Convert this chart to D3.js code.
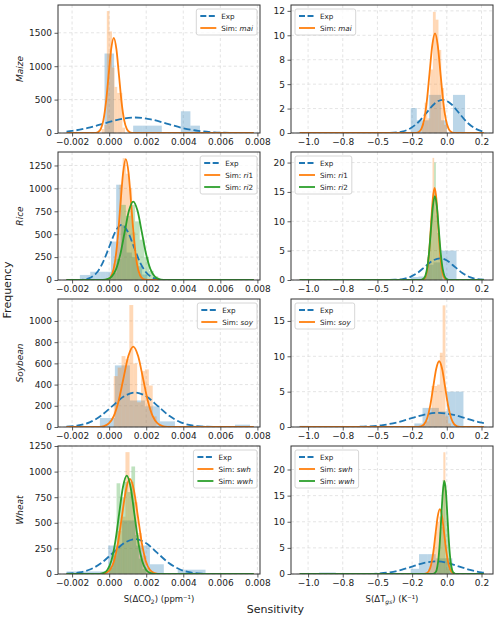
<!DOCTYPE html>
<html>
<head>
<meta charset="utf-8">
<script src="https://cdn.jsdelivr.net/npm/d3@7"></script>
<style>
  body { margin: 0; background: #fff; }
  svg text { font-family: "DejaVu Sans", sans-serif; }
</style>
</head>
<body>
<svg id="chart" width="500" height="621"></svg>
<script>
// ---- categories / ticks ----
const crops = ["Maize", "Rice", "Soybean", "Wheat"];
const simNames = [[["mai", ""]], [["ri", "1"], ["ri", "2"]], [["soy", ""]], [["swh", ""], ["wwh", ""]]];

const co2Domain = [-0.00276, 0.00814];
const tDomain = [-1.123, 0.333];
const co2Ticks = [-0.002, 0, 0.002, 0.004, 0.006, 0.008];
const co2TickLabels = ["\u22120.002", "0.000", "0.002", "0.004", "0.006", "0.008"];
const tTicks = [-1.0, -0.75, -0.5, -0.25, 0, 0.25];
const tTickLabels = ["\u22121.0", "\u22120.8", "\u22120.5", "\u22120.2", "0.0", "0.2"];

const co2YMax = [1916, 1397, 1207, 1250];
const tYMax = [13.1, 21.8, 18.1, 24.5];
const co2YTicks = [[0, 500, 1000, 1500], [0, 250, 500, 750, 1000, 1250], [0, 200, 400, 600, 800, 1000], [0, 250, 500, 750, 1000, 1250]];
const tYTicks = [[0, 2.5, 5, 7.5, 10, 12.5], [0, 5, 10, 15, 20], [0, 5, 10, 15], [0, 5, 10, 15, 20]];
const tYTickLabels = [["0", "2", "5", "8", "10", "12"], ["0", "5", "10", "15", "20"], ["0", "5", "10", "15"], ["0", "5", "10", "15", "20"]];

// ---- histograms (bin start, bin width, densities) ----
const maizeCo2ExpHist = { x0: -0.00025, dx: 0.000515, h: [1190, 0, 0, 110, 110, 110, 0, 0, 325, 110] };
const maizeCo2SimHist = { x0: -0.000405, dx: 0.00014, h: [60, 120, 1825, 1520, 980, 690, 600, 600, 80] };
const maizeTExpHist = { x0: -0.26, dx: 0.0435, h: [2.55, 1.3, 1.3, 3.9, 3.9, 1.3, 0, 3.9, 3.9] };
const maizeTSimHist = { x0: -0.18, dx: 0.02, h: [1.0, 3.1, 1.5, 6.5, 12.4, 11.6, 8.5, 4.6, 0.85] };

const riceCo2ExpHist = { x0: -0.00158, dx: 0.00028, h: [55, 55, 90, 90, 90, 90, 420, 1040, 600, 300, 250, 150, 60] };
const riceCo2Sim1Hist = { x0: 0.00005, dx: 0.00017, h: [60, 180, 420, 1040, 1330, 1160, 1000, 520, 250, 60, 15] };
const riceCo2Sim2Hist = { x0: -0.0001, dx: 0.00025, h: [20, 80, 230, 820, 700, 820, 640, 440, 250, 100, 40] };
const riceTExpHist = { x0: -0.26, dx: 0.055, h: [0.5, 0.6, 2.6, 3.0, 5.0, 5.0] };
const riceTSim1Hist = { x0: -0.163, dx: 0.012, h: [0.4, 1.3, 3.3, 6.5, 11, 20.8, 15, 12, 8, 4.5, 2] };
const riceTSim2Hist = { x0: -0.163, dx: 0.012, h: [0.7, 1.8, 3.9, 7.1, 10.8, 13, 20, 11, 8, 5, 2.5] };

const soyCo2ExpHist = { x0: -0.00212, dx: 0.00081, h: [10, 0, 85, 581, 250, 195, 53, 0, 12, 0, 0, 22] };
const soyCo2SimHist = { x0: 0.00025, dx: 0.00021, h: [480, 560, 669, 640, 1150, 600, 233, 527, 543, 391, 100] };
const soyTExpHist = { x0: -1.06, dx: 0.059, h: [0.17, 0, 0, 0, 0, 0, 0, 0, 0, 0, 0, 0, 0, 0, 0.5, 2.7, 2.7, 2.2, 5.0, 5.0] };
const soyTSimHist = { x0: -0.17, dx: 0.02, h: [0.3, 0.8, 2.0, 5.8, 5.8, 6.0, 10.5, 17.2, 1.5, 0.5] };

const wheatCo2ExpHist = { x0: -0.0023, dx: 0.00075, h: [25, 25, 25, 278, 523, 278, 95, 0, 42, 42] };
const wheatCo2Sim1Hist = { x0: 0.0, dx: 0.00022, h: [60, 180, 420, 560, 1190, 900, 700, 400, 180, 60] };
const wheatCo2Sim2Hist = { x0: 0.0, dx: 0.0002, h: [80, 220, 886, 750, 900, 800, 1050, 380, 150, 50] };
const wheatTExpHist = { x0: -0.92, dx: 0.06, h: [0.3, 0.3, 0, 0, 0, 0, 0, 0, 0, 0, 0, 1.0, 3.8, 3.8, 3.0, 3.0] };
const wheatTSim1Hist = { x0: -0.13, dx: 0.015, h: [0.9, 2.4, 5, 8, 10, 11, 9, 23.3, 3, 1] };
const wheatTSim2Hist = { x0: -0.07, dx: 0.01, h: [1.5, 4, 8, 12, 18, 17.5, 16, 10, 6, 3, 1] };

// ---- density curves [x, density] ----
const maizeCo2ExpCurve = [[-0.0023, 21.6], [-0.002, 31.4], [-0.00115, 75.3], [-0.0003, 140.7], [0.00055, 204.7], [0.0014, 232], [0.00225, 204.7], [0.0031, 140.7], [0.00395, 75.3], [0.0048, 31.4], [0.00565, 10.2], [0.0065, 2.6], [0.00735, 0.5], [0.0078, 0.2]];
const maizeCo2SimCurve = [[-0.0023, 0], [-0.00087, 0.4], [-0.00073, 3], [-0.00059, 16], [-0.00045, 63], [-0.00031, 193], [-0.00017, 463], [-0.00003, 864], [0.00011, 1258], [0.00025, 1425], [0.00039, 1258], [0.00053, 864], [0.00067, 463], [0.00081, 193], [0.00095, 63], [0.00109, 16], [0.00123, 3], [0.00137, 0.4], [0.0078, 0]];
const maizeTExpCurve = [[-1.06, 0], [-0.498, 0.001], [-0.4395, 0.007], [-0.381, 0.038], [-0.3225, 0.149], [-0.264, 0.46], [-0.2055, 1.10], [-0.147, 2.06], [-0.0885, 3.0], [-0.03, 3.4], [0.0285, 3.0], [0.087, 2.06], [0.1455, 1.10], [0.204, 0.46], [0.267, 0.13]];
const maizeTSimCurve = [[-1.06, 0], [-0.241, 0.003], [-0.2215, 0.02], [-0.202, 0.11], [-0.1825, 0.45], [-0.163, 1.38], [-0.1435, 3.31], [-0.124, 6.19], [-0.1045, 9.0], [-0.085, 10.2], [-0.0655, 9.0], [-0.046, 6.19], [-0.0265, 3.31], [-0.007, 1.38], [0.0125, 0.45], [0.032, 0.11], [0.0515, 0.02], [0.071, 0.003], [0.267, 0]];

const riceCo2ExpCurve = [[-0.0023, 0], [-0.00199, 0.2], [-0.00166, 1.3], [-0.00132, 6.7], [-0.00099, 26.4], [-0.00066, 81.3], [-0.00033, 195], [0.00001, 364.5], [0.00034, 530], [0.00067, 601], [0.001, 530], [0.00133, 364.5], [0.00166, 195], [0.002, 81.3], [0.00233, 26.4], [0.00266, 6.7], [0.00299, 1.3], [0.00333, 0.2], [0.0078, 0]];
const riceCo2Sim1Curve = [[-0.0023, 0], [-0.0003, 0.4], [-0.00015, 2.9], [0.0, 14.7], [0.00015, 58], [0.0003, 179], [0.00045, 429], [0.0006, 801], [0.00075, 1165], [0.0009, 1320], [0.00105, 1165], [0.0012, 801], [0.00135, 429], [0.0015, 179], [0.00165, 58], [0.0018, 14.7], [0.00195, 2.9], [0.0021, 0.4], [0.0078, 0]];
const riceCo2Sim2Curve = [[-0.0023, 0], [-0.000564, 0.26], [-0.000331, 1.9], [-0.000098, 9.5], [0.000135, 37.6], [0.000368, 116], [0.000601, 278], [0.000834, 519], [0.001067, 755], [0.0013, 856], [0.001533, 755], [0.001766, 519], [0.001999, 278], [0.002232, 116], [0.002465, 37.6], [0.002698, 9.5], [0.002931, 1.9], [0.003164, 0.26], [0.0078, 0]];
const riceTExpCurve = [[-1.06, 0], [-0.482, 0.001], [-0.428, 0.008], [-0.374, 0.041], [-0.32, 0.16], [-0.266, 0.5], [-0.212, 1.2], [-0.158, 2.24], [-0.104, 3.27], [-0.05, 3.7], [0.004, 3.27], [0.058, 2.24], [0.112, 1.2], [0.166, 0.5], [0.22, 0.16], [0.267, 0.05]];
const riceTSim1Curve = [[-1.06, 0], [-0.1896, 0.005], [-0.1769, 0.035], [-0.1642, 0.17], [-0.1515, 0.69], [-0.1388, 2.12], [-0.1261, 5.1], [-0.1134, 9.52], [-0.1007, 13.86], [-0.088, 15.7], [-0.0753, 13.86], [-0.0626, 9.52], [-0.0499, 5.1], [-0.0372, 2.12], [-0.0245, 0.69], [-0.0118, 0.17], [0.0009, 0.035], [0.0136, 0.005], [0.267, 0]];
const riceTSim2Curve = [[-1.06, 0], [-0.198, 0.004], [-0.184, 0.031], [-0.17, 0.16], [-0.156, 0.63], [-0.142, 1.93], [-0.128, 4.64], [-0.114, 8.67], [-0.1, 12.6], [-0.086, 14.3], [-0.072, 12.6], [-0.058, 8.67], [-0.044, 4.64], [-0.03, 1.93], [-0.016, 0.63], [-0.002, 0.16], [0.012, 0.031], [0.026, 0.004], [0.267, 0]];

const soyCo2ExpCurve = [[-0.0023, 3.6], [-0.00168, 14.3], [-0.00106, 44], [-0.000445, 105.5], [0.00017, 197], [0.000785, 287], [0.0014, 325], [0.002015, 287], [0.00263, 197], [0.003245, 105.5], [0.00386, 44], [0.004475, 14.3], [0.00509, 3.6], [0.005705, 0.7], [0.00632, 0.1], [0.0078, 0]];
const soyCo2SimCurve = [[-0.0023, 0], [-0.000804, 0.23], [-0.000541, 1.7], [-0.000278, 8.4], [-0.000015, 33.3], [0.000248, 102.6], [0.000511, 246], [0.000774, 460], [0.001037, 669], [0.0013, 758], [0.001563, 669], [0.001826, 460], [0.002089, 246], [0.002352, 102.6], [0.002615, 33.3], [0.002878, 8.4], [0.003141, 1.7], [0.003404, 0.23], [0.0078, 0]];
const soyTExpCurve = [[-1.06, 0], [-0.96, 0], [-0.86, 0.0007], [-0.76, 0.0044], [-0.66, 0.022], [-0.56, 0.088], [-0.46, 0.27], [-0.36, 0.65], [-0.26, 1.21], [-0.16, 1.76], [-0.06, 2.0], [0.04, 1.76], [0.14, 1.21], [0.24, 0.65], [0.267, 0.53]];
const soyTSimCurve = [[-1.06, 0], [-0.227, 0.003], [-0.2055, 0.02], [-0.184, 0.10], [-0.1625, 0.41], [-0.141, 1.26], [-0.1195, 3.02], [-0.098, 5.64], [-0.0765, 8.21], [-0.055, 9.3], [-0.0335, 8.21], [-0.012, 5.64], [0.0095, 3.02], [0.031, 1.26], [0.0525, 0.41], [0.074, 0.10], [0.0955, 0.02], [0.117, 0.003], [0.267, 0]];

const wheatCo2ExpCurve = [[-0.0023, 3.0], [-0.0016, 14.9], [-0.001, 46], [-0.0004, 110], [0.0002, 206], [0.0008, 300], [0.0014, 340], [0.002, 300], [0.0026, 206], [0.0032, 110], [0.0038, 46], [0.0044, 14.9], [0.005, 3.8], [0.0056, 0.75], [0.0062, 0.1], [0.0078, 0]];
const wheatCo2Sim1Curve = [[-0.0023, 0], [-0.0006, 0.3], [-0.000385, 2.0], [-0.00017, 10.3], [0.000045, 40.7], [0.00026, 125.6], [0.000475, 301], [0.00069, 563], [0.000905, 819], [0.00112, 928], [0.001335, 819], [0.00155, 563], [0.001765, 301], [0.00198, 125.6], [0.002195, 40.7], [0.00241, 10.3], [0.002625, 2.0], [0.00284, 0.3], [0.0078, 0]];
const wheatCo2Sim2Curve = [[-0.0023, 0], [-0.00071, 0.3], [-0.000503, 2.1], [-0.000295, 10.7], [-0.000088, 42.1], [0.00012, 130], [0.000328, 312], [0.000535, 582], [0.000743, 847], [0.00095, 960], [0.001158, 847], [0.001365, 582], [0.001573, 312], [0.00178, 130], [0.001988, 42.1], [0.002195, 10.7], [0.002403, 2.1], [0.00261, 0.3], [0.0078, 0]];
const wheatTExpCurve = [[-1.06, 0], [-0.74, 0.0008], [-0.6575, 0.0053], [-0.575, 0.027], [-0.4925, 0.106], [-0.41, 0.327], [-0.3275, 0.786], [-0.245, 1.468], [-0.1625, 2.136], [-0.08, 2.42], [0.0025, 2.136], [0.085, 1.468], [0.1675, 0.786], [0.25, 0.327], [0.267, 0.27]];
const wheatTSim1Curve = [[-1.06, 0], [-0.178, 0.004], [-0.162, 0.027], [-0.146, 0.14], [-0.13, 0.54], [-0.114, 1.68], [-0.098, 4.03], [-0.082, 7.52], [-0.066, 10.94], [-0.05, 12.4], [-0.034, 10.94], [-0.018, 7.52], [-0.002, 4.03], [0.014, 1.68], [0.03, 0.54], [0.046, 0.14], [0.062, 0.027], [0.078, 0.004], [0.267, 0]];
const wheatTSim2Curve = [[-1.06, 0], [-0.107, 0.005], [-0.0959, 0.039], [-0.0847, 0.2], [-0.0735, 0.78], [-0.0623, 2.41], [-0.0511, 5.78], [-0.0399, 10.8], [-0.0287, 15.7], [-0.0175, 17.8], [-0.0063, 15.7], [0.0049, 10.8], [0.0161, 5.78], [0.0273, 2.41], [0.0385, 0.78], [0.0497, 0.2], [0.0609, 0.039], [0.0721, 0.005], [0.267, 0]];

// ---- panel table built from the arrays above ----
const co2Hists = [[maizeCo2ExpHist, maizeCo2SimHist], [riceCo2ExpHist, riceCo2Sim1Hist, riceCo2Sim2Hist], [soyCo2ExpHist, soyCo2SimHist], [wheatCo2ExpHist, wheatCo2Sim1Hist, wheatCo2Sim2Hist]];
const co2Curves = [[maizeCo2ExpCurve, maizeCo2SimCurve], [riceCo2ExpCurve, riceCo2Sim1Curve, riceCo2Sim2Curve], [soyCo2ExpCurve, soyCo2SimCurve], [wheatCo2ExpCurve, wheatCo2Sim1Curve, wheatCo2Sim2Curve]];
const tHists = [[maizeTExpHist, maizeTSimHist], [riceTExpHist, riceTSim1Hist, riceTSim2Hist], [soyTExpHist, soyTSimHist], [wheatTExpHist, wheatTSim1Hist, wheatTSim2Hist]];
const tCurves = [[maizeTExpCurve, maizeTSimCurve], [riceTExpCurve, riceTSim1Curve, riceTSim2Curve], [soyTExpCurve, soyTSimCurve], [wheatTExpCurve, wheatTSim1Curve, wheatTSim2Curve]];

const colors = ["#1f77b4", "#ff7f0e", "#2ca02c"];
const colX = [[58, 260], [291, 493]];
const rowTop = [5, 152, 299, 446];
const panelH = 128;

const svg = d3.select("#chart");
const line = d3.line().curve(d3.curveMonotoneX);

crops.forEach((crop, r) => {
  [0, 1].forEach(c => {
    const [x0, x1] = colX[c];
    const y0 = rowTop[r], y1 = y0 + panelH;
    const x = d3.scaleLinear().domain(c ? tDomain : co2Domain).range([x0, x1]);
    const y = d3.scaleLinear().domain([0, c ? tYMax[r] : co2YMax[r]]).range([y1, y0]);
    const xt = c ? tTicks : co2Ticks;
    const xl = c ? tTickLabels : co2TickLabels;
    const yt = c ? tYTicks[r] : co2YTicks[r];
    const yl = c ? tYTickLabels[r] : yt.map(String);
    const hists = c ? tHists[r] : co2Hists[r];
    const curves = c ? tCurves[r] : co2Curves[r];

    const id = `clip-${r}-${c}`;
    svg.append("clipPath").attr("id", id)
      .append("rect").attr("x", x0).attr("y", y0).attr("width", x1 - x0).attr("height", panelH);

    const g = svg.append("g");

    // grid
    const grid = g.append("g").attr("stroke", "#d9d9d9").attr("stroke-width", 0.7).attr("stroke-dasharray", "3,2.5");
    grid.selectAll(".gx").data(xt).enter().append("line")
      .attr("x1", d => x(d)).attr("x2", d => x(d)).attr("y1", y0).attr("y2", y1);
    grid.selectAll(".gy").data(yt).enter().append("line")
      .attr("x1", x0).attr("x2", x1).attr("y1", d => y(d)).attr("y2", d => y(d));

    const plot = g.append("g").attr("clip-path", `url(#${id})`);

    // histograms
    hists.forEach((hs, k) => {
      plot.append("g").selectAll("rect")
        .data(hs.h.map((v, j) => ({ a: hs.x0 + j * hs.dx, b: hs.x0 + (j + 1) * hs.dx, v })).filter(d => d.v > 0))
        .enter().append("rect")
        .attr("x", d => x(d.a))
        .attr("width", d => x(d.b) - x(d.a))
        .attr("y", d => y(d.v))
        .attr("height", d => y1 - y(d.v))
        .attr("fill", colors[k])
        .attr("fill-opacity", 0.3);
    });

    // density curves
    curves.forEach((pts, k) => {
      plot.append("path")
        .attr("d", line(pts.map(p => [x(p[0]), y(p[1])])))
        .attr("fill", "none")
        .attr("stroke", colors[k])
        .attr("stroke-width", 1.8)
        .attr("stroke-dasharray", k === 0 ? "7,3" : null);
    });

    // axes
    const ax = g.append("g").attr("transform", `translate(0,${y1})`)
      .call(d3.axisBottom(x).tickValues(xt).tickFormat((d, j) => xl[j]).tickSize(3.5).tickPadding(2.5));
    const ay = g.append("g").attr("transform", `translate(${x0},0)`)
      .call(d3.axisLeft(y).tickValues(yt).tickFormat((d, j) => yl[j]).tickSize(3.5).tickPadding(2.5));
    [ax, ay].forEach(a => {
      a.select(".domain").remove();
      a.attr("font-size", 9).attr("font-family", "DejaVu Sans").attr("color", "#222");
      a.selectAll("line").attr("stroke", "#333").attr("stroke-width", 0.8);
    });

    // frame
    g.append("rect").attr("x", x0).attr("y", y0).attr("width", x1 - x0).attr("height", panelH)
      .attr("fill", "none").attr("stroke", "#333").attr("stroke-width", 1);

    // legend
    const entries = [["Exp", "", ""]].concat(simNames[r].map(s => ["Sim: ", s[0], s[1]]));
    const lg = g.append("g");
    const box = lg.append("rect");
    const rowGap = 12;
    let maxW = 0;
    const texts = [];
    entries.forEach((e, k) => {
      const t = lg.append("text").attr("font-size", 7.2).attr("fill", "#222").attr("dy", "0.35em");
      t.append("tspan").text(e[0]);
      if (e[1]) t.append("tspan").attr("font-style", "italic").text(e[1]);
      if (e[2]) t.append("tspan").text(e[2]);
      maxW = Math.max(maxW, t.node().getComputedTextLength());
      texts.push(t);
    });
    const bw = maxW + 29, bh = rowGap * entries.length + 2;
    const bx = c ? x0 + 4 : x1 - 3 - bw;
    const by = y0 + 4;
    box.attr("x", bx).attr("y", by).attr("width", bw).attr("height", bh).attr("rx", 2)
      .attr("fill", "#fff").attr("fill-opacity", 0.8).attr("stroke", "#ccc").attr("stroke-width", 0.8);
    entries.forEach((e, k) => {
      const cy = by + 7 + k * rowGap;
      lg.append("line").attr("x1", bx + 4).attr("x2", bx + 20).attr("y1", cy).attr("y2", cy)
        .attr("stroke", colors[k]).attr("stroke-width", 1.8)
        .attr("stroke-dasharray", k === 0 ? "6,2.5" : null);
      texts[k].attr("x", bx + 25).attr("y", cy);
    });

    // row label
    if (c === 0) {
      svg.append("text").attr("transform", `translate(22.5,${(y0 + y1) / 2}) rotate(-90)`)
        .attr("text-anchor", "middle").attr("font-size", 9).attr("font-style", "italic").attr("fill", "#222")
        .text(crop);
    }
  });
});

// x labels
const xl1 = svg.append("text").attr("x", (colX[0][0] + colX[0][1]) / 2).attr("y", 602)
  .attr("text-anchor", "middle").attr("font-size", 8.5).attr("fill", "#222");
xl1.append("tspan").text("S(\u0394CO");
xl1.append("tspan").attr("font-size", 6).attr("dy", 2).text("2");
xl1.append("tspan").attr("dy", -2).text(") (ppm\u207b\u00b9)");

const xl2 = svg.append("text").attr("x", (colX[1][0] + colX[1][1]) / 2).attr("y", 602)
  .attr("text-anchor", "middle").attr("font-size", 8.5).attr("fill", "#222");
xl2.append("tspan").text("S(\u0394T");
xl2.append("tspan").attr("font-size", 6).attr("font-style", "italic").attr("dy", 2).text("gs");
xl2.append("tspan").attr("dy", -2).text(") (K\u207b\u00b9)");

svg.append("text").attr("x", 275.5).attr("y", 613).attr("text-anchor", "middle")
  .attr("font-size", 11).attr("fill", "#222").text("Sensitivity");
svg.append("text").attr("transform", "translate(11,290) rotate(-90)").attr("text-anchor", "middle")
  .attr("font-size", 11).attr("fill", "#222").text("Frequency");
</script>
</body>
</html>
